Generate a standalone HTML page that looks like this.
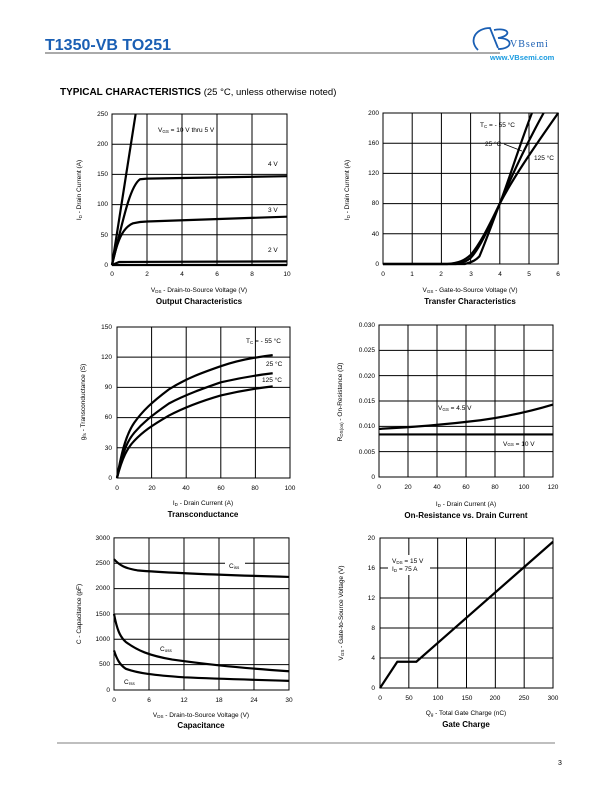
<!DOCTYPE html>
<html><head><meta charset="utf-8"><style>
body{margin:0;background:#fff}
svg{display:block;font-family:"Liberation Sans",Arial,sans-serif}
.g{stroke:#000;stroke-width:1;fill:none;vector-effect:non-scaling-stroke}
.c{stroke:#000;stroke-width:2.2;fill:none;vector-effect:non-scaling-stroke;stroke-linejoin:round}
.t{font-size:6.5px}
.tt{font-size:8px;font-weight:bold}
</style></head><body>
<svg width="612" height="792" viewBox="0 0 612 792">
<!-- header -->
<text x="45" y="50" font-size="16" font-weight="bold" fill="#1a5fb4">T1350-VB TO251</text>
<line x1="45" y1="53" x2="500" y2="53" stroke="#777" stroke-width="1.2"/>
<path d="M478,50 C468,40 476,28 490,28 L498,48 M494,30 C510,27 512,36 498,38 C514,38 513,49 498,49" stroke="#1a5fb4" stroke-width="1.8" fill="none"/>
<text x="510" y="47" font-size="10" fill="#1a5fb4" font-family="Liberation Serif,serif" letter-spacing="1">VBsemi</text>
<text x="490" y="60" font-size="7.5" font-weight="bold" fill="#1a9be0">www.VBsemi.com</text>
<text x="60" y="95" font-size="10" font-weight="bold">TYPICAL CHARACTERISTICS <tspan font-weight="normal" font-size="9.5">(25 °C, unless otherwise noted)</tspan></text>

<!-- Chart 1 -->
<g transform="translate(112,265) scale(17.5,-0.604)">
<rect x="0" y="0" width="10" height="250" class="g"/>
<path class="g" d="M2,0V250M4,0V250M6,0V250M8,0V250M0,50H10M0,100H10M0,150H10M0,200H10"/>
<path class="c" d="M0,0L1.35,250"/>
<path class="c" d="M0,0C0.6,70 1,130 1.6,142L2,143L10,147"/>
<path class="c" d="M0,0C0.3,40 0.6,62 1.2,69C1.6,72 2,72 2,72L10,80"/>
<path class="c" d="M0,0L0.4,5L10,6"/>
<path class="c" d="M0,0H10"/>
</g>
<g class="t" text-anchor="end"><text x="108" y="267">0</text><text x="108" y="237">50</text><text x="108" y="206">100</text><text x="108" y="176">150</text><text x="108" y="146">200</text><text x="108" y="116">250</text></g>
<g class="t" text-anchor="middle"><text x="112" y="276">0</text><text x="147" y="276">2</text><text x="182" y="276">4</text><text x="217" y="276">6</text><text x="252" y="276">8</text><text x="287" y="276">10</text></g>
<text class="t" x="158" y="132">V<tspan font-size="4.5" dy="1">GS</tspan><tspan dy="-1"> = 10 V thru 5 V</tspan></text>
<text class="t" x="268" y="166">4 V</text><text class="t" x="268" y="212">3 V</text><text class="t" x="268" y="252">2 V</text>
<text class="t" x="199" y="292" text-anchor="middle">V<tspan font-size="4.5" dy="1">DS</tspan><tspan dy="-1"> - Drain-to-Source Voltage (V)</tspan></text>
<text class="tt" x="199" y="304" text-anchor="middle">Output Characteristics</text>
<text class="t" transform="translate(81,190) rotate(-90)" text-anchor="middle">I<tspan font-size="4.5" dy="1">D</tspan><tspan dy="-1"> - Drain Current (A)</tspan></text>

<!-- Chart 2 -->
<g transform="translate(383,264) scale(29.2,-0.755)">
<rect x="0" y="0" width="6" height="200" class="g"/>
<path class="g" d="M1,0V200M2,0V200M3,0V200M4,0V200M5,0V200M0,40H6M0,80H6M0,120H6M0,160H6"/>
<path class="c" d="M0,0L2.2,0C2.6,1 2.8,5 3,12C3.3,25 3.6,48 4,80C4.3,110 4.7,160 5.1,200"/>
<path class="c" d="M0,0L2.5,0C2.8,2 2.9,5 3,8C3.3,20 3.6,46 4,80C4.5,125 5,165 5.5,200"/>
<path class="c" d="M0,0L2.8,0C3.1,3 3.2,6 3.3,10C3.5,28 3.7,50 4,80C4.4,110 5,145 6,200"/>
</g>
<g class="t" text-anchor="end"><text x="379" y="266">0</text><text x="379" y="236">40</text><text x="379" y="205">80</text><text x="379" y="175">120</text><text x="379" y="145">160</text><text x="379" y="115">200</text></g>
<g class="t" text-anchor="middle"><text x="383" y="276">0</text><text x="412" y="276">1</text><text x="441" y="276">2</text><text x="471" y="276">3</text><text x="500" y="276">4</text><text x="529" y="276">5</text><text x="558" y="276">6</text></g>
<text class="t" x="480" y="127">T<tspan font-size="4.5" dy="1">C</tspan><tspan dy="-1"> = - 55 °C</tspan></text>
<text class="t" x="485" y="146">25 °C</text><path d="M504,144L522,151" stroke="#000" stroke-width="0.8"/>
<text class="t" x="534" y="160">125 °C</text>
<text class="t" x="470" y="292" text-anchor="middle">V<tspan font-size="4.5" dy="1">GS</tspan><tspan dy="-1"> - Gate-to-Source Voltage (V)</tspan></text>
<text class="tt" x="470" y="304" text-anchor="middle">Transfer Characteristics</text>
<text class="t" transform="translate(349,190) rotate(-90)" text-anchor="middle">I<tspan font-size="4.5" dy="1">D</tspan><tspan dy="-1"> - Drain Current (A)</tspan></text>

<!-- Chart 3 -->
<g transform="translate(117,478) scale(1.73,-1.007)">
<rect x="0" y="0" width="100" height="150" class="g"/>
<path class="g" d="M20,0V150M40,0V150M60,0V150M80,0V150M0,30H100M0,60H100M0,90H100M0,120H100"/>
<path class="c" d="M0,0C3,30 6,45 10,55C15,67 20,75 30,88C40,99 50,105 60,111C70,117 80,120 90,122"/>
<path class="c" d="M0,0C3,25 6,37 10,45C15,55 20,62 30,74C40,83 50,89 60,95C70,99 80,102 90,104"/>
<path class="c" d="M0,0C3,20 6,30 10,37C15,46 20,52 30,62C40,71 50,77 60,82C70,86 80,89 90,91"/>
</g>
<g class="t" text-anchor="end"><text x="112" y="480">0</text><text x="112" y="450">30</text><text x="112" y="419">60</text><text x="112" y="389">90</text><text x="112" y="359">120</text><text x="112" y="329">150</text></g>
<g class="t" text-anchor="middle"><text x="117" y="490">0</text><text x="152" y="490">20</text><text x="186" y="490">40</text><text x="221" y="490">60</text><text x="255" y="490">80</text><text x="290" y="490">100</text></g>
<text class="t" x="246" y="343">T<tspan font-size="4.5" dy="1">C</tspan><tspan dy="-1"> = - 55 °C</tspan></text>
<text class="t" x="266" y="366">25 °C</text><text class="t" x="262" y="382">125 °C</text>
<text class="t" x="203" y="505" text-anchor="middle">I<tspan font-size="4.5" dy="1">D</tspan><tspan dy="-1"> - Drain Current (A)</tspan></text>
<text class="tt" x="203" y="517" text-anchor="middle">Transconductance</text>
<text class="t" transform="translate(85,402) rotate(-90)" text-anchor="middle">g<tspan font-size="4.5" dy="1">fs</tspan><tspan dy="-1"> - Transconductance (S)</tspan></text>

<!-- Chart 4 -->
<g transform="translate(379,477) scale(1.45,-5.067)">
<rect x="0" y="0" width="120" height="30" class="g"/>
<path class="g" d="M20,0V30M40,0V30M60,0V30M80,0V30M100,0V30M0,5H120M0,10H120M0,15H120M0,20H120M0,25H120"/>
<path class="c" d="M0,9.5C30,9.9 50,10.5 70,11.2C90,12 105,13 120,14.3"/>
<path class="c" d="M0,8.4H120"/>
</g>
<g class="t" text-anchor="end"><text x="375" y="479">0</text><text x="375" y="454">0.005</text><text x="375" y="428">0.010</text><text x="375" y="403">0.015</text><text x="375" y="378">0.020</text><text x="375" y="352">0.025</text><text x="375" y="327">0.030</text></g>
<g class="t" text-anchor="middle"><text x="379" y="489">0</text><text x="408" y="489">20</text><text x="437" y="489">40</text><text x="466" y="489">60</text><text x="495" y="489">80</text><text x="524" y="489">100</text><text x="553" y="489">120</text></g>
<text class="t" x="438" y="410">V<tspan font-size="4.5" dy="1">GS</tspan><tspan dy="-1"> = 4.5 V</tspan></text>
<text class="t" x="503" y="446">V<tspan font-size="4.5">GS</tspan> = 10 V</text>
<text class="t" x="466" y="506" text-anchor="middle">I<tspan font-size="4.5" dy="1">D</tspan><tspan dy="-1"> - Drain Current (A)</tspan></text>
<text class="tt" x="466" y="518" text-anchor="middle">On-Resistance vs. Drain Current</text>
<text class="t" transform="translate(342,402) rotate(-90)" text-anchor="middle">R<tspan font-size="4.5" dy="1">DS(on)</tspan><tspan dy="-1"> - On-Resistance (Ω)</tspan></text>

<!-- Chart 5 -->
<g transform="translate(114,690) scale(5.833,-0.0507)">
<rect x="0" y="0" width="30" height="3000" class="g"/>
<path class="g" d="M6,0V3000M12,0V3000M18,0V3000M24,0V3000M0,500H30M0,1000H30M0,1500H30M0,2000H30M0,2500H30"/>
<path class="c" d="M0,2580C1,2450 2,2400 4,2360C8,2320 15,2280 30,2230"/>
<path class="c" d="M0,1500C0.5,1200 1,1050 2,950C4,780 6,680 10,600C15,520 20,450 30,370"/>
<path class="c" d="M0,780C0.5,600 1,500 2,420C4,330 7,290 12,250C18,220 24,200 30,180"/>
</g>
<g class="t" text-anchor="end"><text x="110" y="692">0</text><text x="110" y="666">500</text><text x="110" y="641">1000</text><text x="110" y="616">1500</text><text x="110" y="590">2000</text><text x="110" y="565">2500</text><text x="110" y="540">3000</text></g>
<g class="t" text-anchor="middle"><text x="114" y="702">0</text><text x="149" y="702">6</text><text x="184" y="702">12</text><text x="219" y="702">18</text><text x="254" y="702">24</text><text x="289" y="702">30</text></g>
<rect x="225" y="561" width="20" height="9" fill="#fff"/>
<text class="t" x="229" y="568">C<tspan font-size="4.5" dy="1">iss</tspan></text>
<text class="t" x="160" y="651">C<tspan font-size="4.5" dy="1">oss</tspan></text>
<text class="t" x="124" y="684">C<tspan font-size="4.5" dy="1">rss</tspan></text>
<text class="t" x="201" y="717" text-anchor="middle">V<tspan font-size="4.5" dy="1">DS</tspan><tspan dy="-1"> - Drain-to-Source Voltage (V)</tspan></text>
<text class="tt" x="201" y="728" text-anchor="middle">Capacitance</text>
<text class="t" transform="translate(81,614) rotate(-90)" text-anchor="middle">C - Capacitance (pF)</text>

<!-- Chart 6 -->
<g transform="translate(380,688) scale(0.5767,-7.5)">
<rect x="0" y="0" width="300" height="20" class="g"/>
<path class="g" d="M50,0V20M100,0V20M150,0V20M200,0V20M250,0V20M0,4H300M0,8H300M0,12H300M0,16H300"/>
<path class="c" d="M0,0L30,3.5L63,3.5L300,19.5"/>
</g>
<rect x="388" y="555" width="42" height="20" fill="#fff"/>
<g class="t" text-anchor="end"><text x="375" y="690">0</text><text x="375" y="660">4</text><text x="375" y="630">8</text><text x="375" y="600">12</text><text x="375" y="570">16</text><text x="375" y="540">20</text></g>
<g class="t" text-anchor="middle"><text x="380" y="700">0</text><text x="409" y="700">50</text><text x="438" y="700">100</text><text x="467" y="700">150</text><text x="495" y="700">200</text><text x="524" y="700">250</text><text x="553" y="700">300</text></g>
<text class="t" x="392" y="563">V<tspan font-size="4.5" dy="1">DS</tspan><tspan dy="-1"> = 15 V</tspan></text>
<text class="t" x="392" y="571">I<tspan font-size="4.5" dy="1">D</tspan><tspan dy="-1"> = 75 A</tspan></text>
<text class="t" x="466" y="715" text-anchor="middle">Q<tspan font-size="4.5" dy="1">g</tspan><tspan dy="-1"> - Total Gate Charge (nC)</tspan></text>
<text class="tt" x="466" y="727" text-anchor="middle">Gate Charge</text>
<text class="t" transform="translate(343,613) rotate(-90)" text-anchor="middle">V<tspan font-size="4.5" dy="1">GS</tspan><tspan dy="-1"> - Gate-to-Source Voltage (V)</tspan></text>

<line x1="57" y1="743" x2="555" y2="743" stroke="#000" stroke-width="0.6"/>
<text x="558" y="765" font-size="7">3</text>
</svg>
</body></html>
